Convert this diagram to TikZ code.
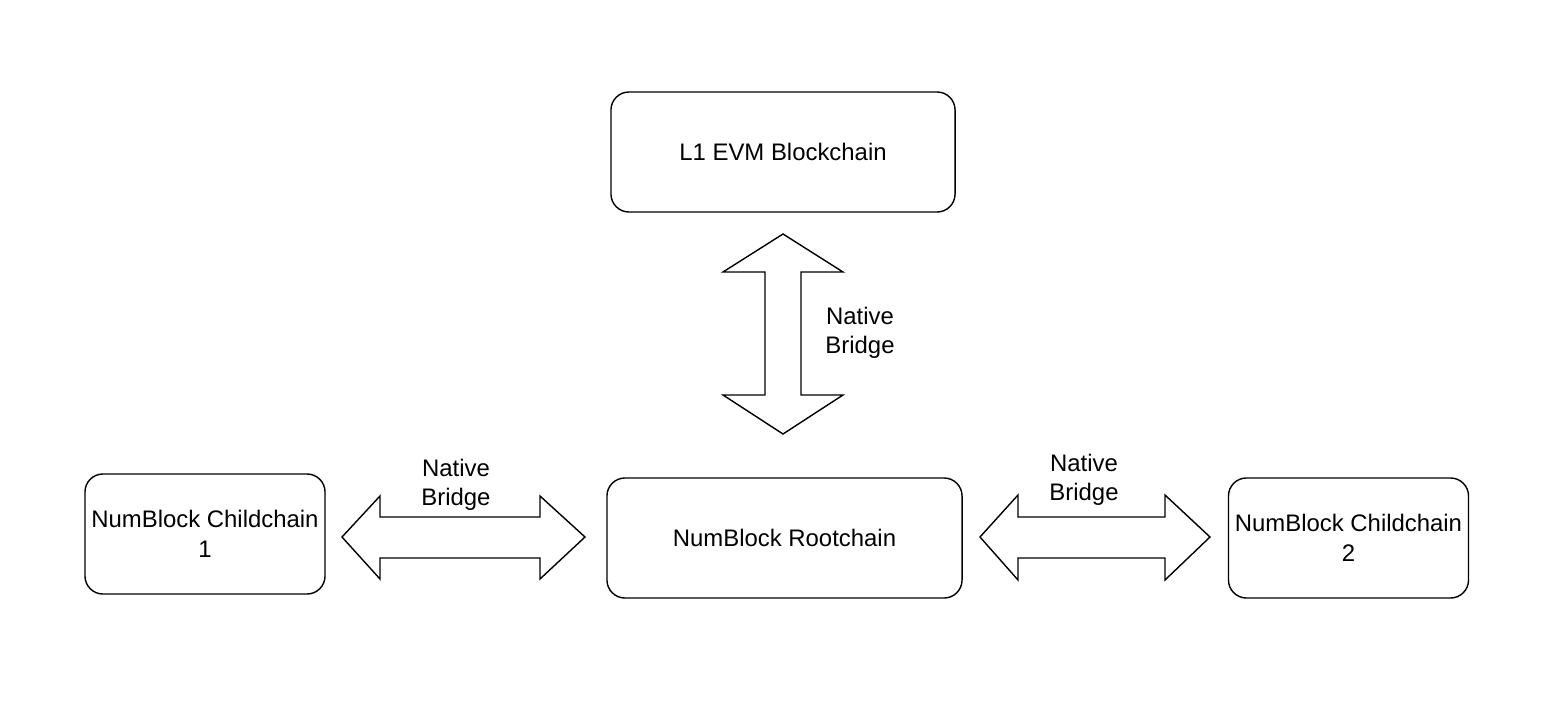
\documentclass[tikz,border=0pt]{standalone}
\usepackage{fontspec}
\setmainfont{Liberation Sans}
\begin{document}
\begin{tikzpicture}[x=0.025cm, y=-0.025cm,
	chainbox/.style={draw, line width=1pt, rounded corners=0.45cm, align=center, inner sep=2pt,
		minimum height=3cm, font=\fontsize{17}{21}\selectfont},
	bridgelabel/.style={align=center, font=\fontsize{17}{21}\selectfont},
	bridge/.style={draw, line width=1pt, line join=miter}]

	\useasboundingbox (0,0) rectangle (1560,704);

	\node[chainbox, minimum width=8.6cm] (l1) at (783,152) {L1 EVM Blockchain};
	\node[chainbox, minimum width=8.875cm] (root) at (784.5,538) {NumBlock Rootchain};
	\node[chainbox, minimum width=6cm] (child1) at (205,534) {NumBlock Childchain\\1};
	\node[chainbox, minimum width=6cm] (child2) at (1348.5,538) {NumBlock Childchain\\2};

	% bridge arrows
	\draw[bridge] (783,234) -- (843,272) -- (801,272) -- (801,395) -- (843,395) -- (783,434)
		-- (723,395) -- (765,395) -- (765,272) -- (723,272) -- cycle;
	\draw[bridge] (342,537) -- (380,496) -- (380,517) -- (540,517) -- (540,496) -- (585,537)
		-- (540,579) -- (540,558) -- (380,558) -- (380,579) -- cycle;
	\draw[bridge] (980,537) -- (1018,495) -- (1018,517) -- (1165,517) -- (1165,495) -- (1210,537)
		-- (1165,580) -- (1165,558) -- (1018,558) -- (1018,580) -- cycle;

	\node[bridgelabel] (upbridge) at (860,333) {Native\\Bridge};
	\node[bridgelabel] (leftbridge) at (456,485) {Native\\Bridge};
	\node[bridgelabel] (rightbridge) at (1084,480) {Native\\Bridge};

\end{tikzpicture}
\end{document}
